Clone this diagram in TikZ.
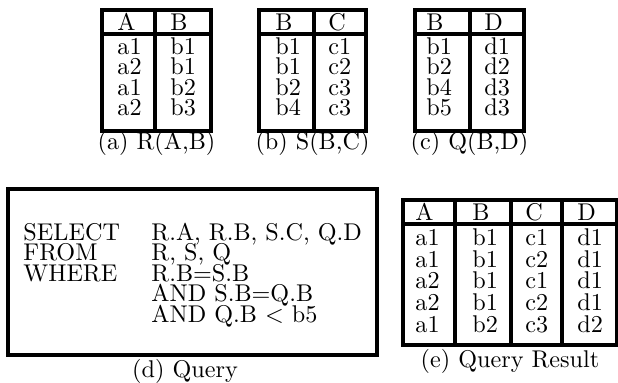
\documentclass[tikz,border=0pt]{standalone}
\usepackage{tikz}
\usetikzlibrary{positioning}
\tikzset{
x=0.4132pt, y=-0.4132pt, % one unit is one pixel of the figure, y runs down
tab/.style={line width=1.25pt}, % the thick table rules
cell/.style={anchor=west, inner sep=0pt, text height=7pt, text depth=0pt}, % a table entry
caption/.style={inner sep=0pt}, % the sub-figure captions
}

\begin{document}
\begin{tikzpicture}
                \useasboundingbox (0,0) rectangle (618,383);
                % (a) R(A,B)
                \draw[tab] (102,10) rectangle (211,131) (102,34) -- (211,34) (155,10) -- (155,131);
                \node[cell] (rA) at (117,22) {A};
                \node[cell] (rB) at (170,22) {B};
                \foreach \a/\b [count=\i] in {a1/b1, a2/b1, a1/b2, a2/b3} {
                    \node[cell] (r\i a) at (117,25.7+20.3*\i) {\a};
                    \node[cell] (r\i b) at (170,25.7+20.3*\i) {\b};
                }
                \node[caption] (capa) at (156.5,143) {(a) R(A,B)};

                % (b) S(B,C)
                \draw[tab] (259,10) rectangle (366,131) (259,34) -- (366,34) (314,10) -- (314,131);
                \node[cell] (sB) at (275,22) {B};
                \node[cell] (sC) at (328,22) {C};
                \foreach \b/\c [count=\i] in {b1/c1, b1/c2, b2/c3, b4/c3} {
                    \node[cell] (s\i b) at (275,25.7+20.3*\i) {\b};
                    \node[cell] (s\i c) at (328,25.7+20.3*\i) {\c};
                }
                \node[caption] (capb) at (312.5,143) {(b) S(B,C)};

                % (c) Q(B,D)
                \draw[tab] (415,10) rectangle (524,131) (415,34) -- (524,34) (470,10) -- (470,131);
                \node[cell] (qB) at (426,22) {B};
                \node[cell] (qD) at (484,22) {D};
                \foreach \b/\d [count=\i] in {b1/d1, b2/d2, b4/d3, b5/d3} {
                    \node[cell] (q\i b) at (426,25.7+20.3*\i) {\b};
                    \node[cell] (q\i d) at (484,25.7+20.3*\i) {\d};
                }
                \node[caption] (capc) at (469.5,143) {(c) Q(B,D)};

                % (d) Query
                \draw[tab] (8,189) rectangle (377,355);
                \node[cell] (kw1) at (23,232) {SELECT};
                \node[cell] (kw2) at (23,252.5) {FROM};
                \node[cell] (kw3) at (23,273) {WHERE};
                \node[cell] (ar1) at (151,232) {R.A, R.B, S.C, Q.D};
                \node[cell] (ar2) at (151,252.5) {R, S, Q};
                \node[cell] (ar3) at (151,273) {R.B=S.B};
                \node[cell] (ar4) at (151,293.5) {AND S.B=Q.B};
                \node[cell] (ar5) at (151,314) {AND Q.B $<$ b5};
                \node[caption] (capd) at (185,371) {(d) Query};

                % (e) Query Result
                \draw[tab] (403,200) rectangle (617,345) (403,224) -- (617,224);
                \foreach \x in {455,511,562}
                    \draw[tab] (\x,200) -- (\x,345);
                \node[cell] (eA) at (415,212) {A};
                \node[cell] (eB) at (472,212) {B};
                \node[cell] (eC) at (525,212) {C};
                \node[cell] (eD) at (577,212) {D};
                \foreach \a/\b/\c/\d [count=\i] in {a1/b1/c1/d1, a1/b1/c2/d1, a2/b1/c1/d1, a2/b1/c2/d1, a1/b2/c3/d2} {
                    \node[cell] (e\i a) at (415,215.3+21.7*\i) {\a};
                    \node[cell] (e\i b) at (472,215.3+21.7*\i) {\b};
                    \node[cell] (e\i c) at (525,215.3+21.7*\i) {\c};
                    \node[cell] (e\i d) at (577,215.3+21.7*\i) {\d};
                }
                \node[caption] (cape) at (510,361) {(e) Query Result};
\end{tikzpicture}
\end{document}
